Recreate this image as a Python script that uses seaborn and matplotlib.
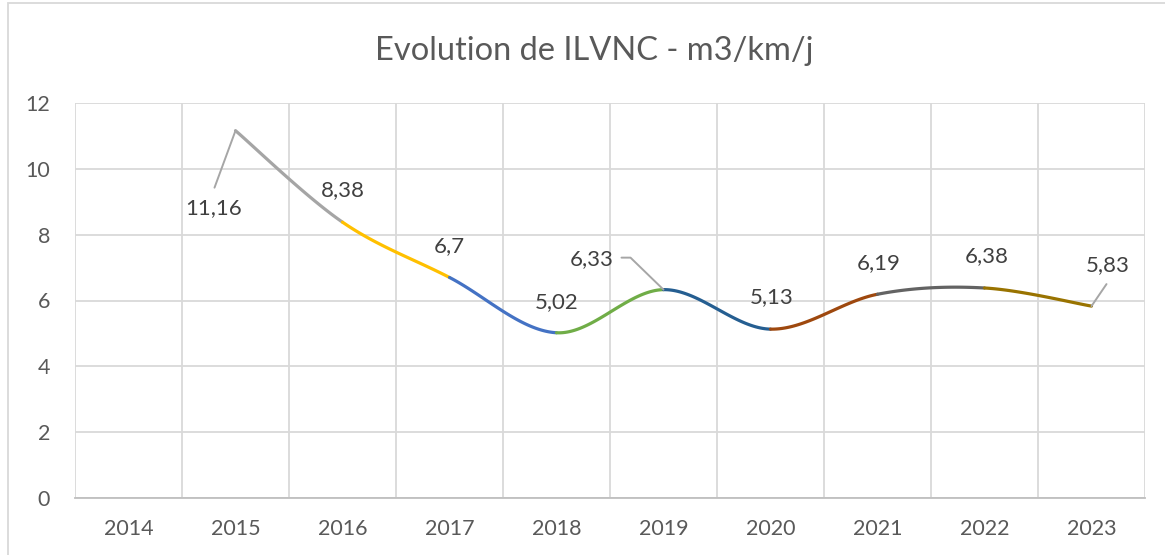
import numpy as np
import matplotlib.pyplot as plt
import seaborn as sns
from matplotlib.patches import Rectangle

# Data
years = ['2014', '2015', '2016', '2017', '2018', '2019', '2020', '2021', '2022', '2023']
values = [np.nan, 11.16, 8.38, 6.7, 5.02, 6.33, 5.13, 6.19, 6.38, 5.83]
value_labels = ['', '11,16', '8,38', '6,7', '5,02', '6,33', '5,13', '6,19', '6,38', '5,83']
# colour of the segment that ends at each year (Excel "vary colors by point")
segment_colors = [None, None, '#A5A5A5', '#FFC000', '#4472C4', '#70AD47',
                  '#255E91', '#9E480E', '#636363', '#997300']

# label offsets in pixels (dx, dy up) from the point
label_offsets = [None, (-22, -77), (0, 32), (0, 31), (0, 31), (-72, 31),
                 (1, 32), (1, 31), (2, 32), (16, 41)]
# leader lines: year index -> start offset in pixels
leaders = {1: (-21, -57), 9: (15, 22)}

sns.set_theme(style="white")
plt.rcParams['font.family'] = ['Lato', 'DejaVu Sans']

fig = plt.figure(figsize=(11.65, 5.55), dpi=100)
ax = fig.add_axes([75 / 1165, 1 - 498 / 555, 1070 / 1165, 395 / 555])

x = np.arange(len(years))
y = np.array(values)


def bezier_segment(i):
    # Excel-like smoothing (Catmull-Rom as cubic Bezier)
    valid = [k for k in range(len(y)) if not np.isnan(y[k])]
    p = {k: np.array([x[k], y[k]]) for k in valid}
    p0 = p.get(i - 1, p[i])
    p1 = p[i]
    p2 = p[i + 1]
    p3 = p.get(i + 2, p[i + 1])
    c1 = p1 + (p2 - p0) / 6
    c2 = p2 - (p3 - p1) / 6
    t = np.linspace(0, 1, 60)[:, None]
    pts = (1 - t) ** 3 * p1 + 3 * (1 - t) ** 2 * t * c1 + 3 * (1 - t) * t ** 2 * c2 + t ** 3 * p2
    return pts[:, 0], pts[:, 1]


for i in range(1, len(years) - 1):
    sx, sy = bezier_segment(i)
    sns.lineplot(x=sx, y=sy, ax=ax, color=segment_colors[i + 1], lw=2.3,
                 sort=False, estimator=None, solid_capstyle='round')

px2pt = 0.72
for i, lab in enumerate(value_labels):
    if not lab:
        continue
    dx, dy = label_offsets[i]
    ax.annotate(lab, xy=(x[i], y[i]), xytext=(dx * px2pt, dy * px2pt),
                textcoords='offset points', ha='center', va='center',
                fontsize=16, color='#404040')

for i, (dx, dy) in leaders.items():
    ax.annotate('', xy=(x[i], y[i]), xytext=(dx * px2pt, dy * px2pt),
                textcoords='offset points',
                arrowprops=dict(arrowstyle='-', color='#A6A6A6', lw=1.4,
                                shrinkA=0, shrinkB=0))

# 2019 leader with short horizontal arm
ax.annotate('', xy=(x[5], y[5]), xytext=(-42 * px2pt, 32 * px2pt),
            textcoords='offset points',
            arrowprops=dict(arrowstyle='-', color='#A6A6A6', lw=1.4,
                            shrinkA=0, shrinkB=0,
                            connectionstyle='arc,angleA=0,armA=9,angleB=0,armB=0,rad=0'))

ax.set_xlim(-0.5, len(years) - 0.5)
ax.set_ylim(0, 12)
ax.set_yticks(range(0, 13, 2))
ax.set_xticks(x)
ax.set_xticklabels(years)
ax.set_xticks(np.arange(-0.5, len(years)), minor=True)

ax.grid(False)
ax.yaxis.grid(True, color='#D9D9D9', lw=1.3)
ax.xaxis.grid(True, which='minor', color='#D9D9D9', lw=1.3)
ax.set_axisbelow(True)

for s in ['top', 'right', 'left']:
    ax.spines[s].set_visible(False)
ax.spines['bottom'].set_color('#BFBFBF')
ax.spines['bottom'].set_linewidth(1.3)

ax.tick_params(axis='both', which='both', length=0, labelsize=15.5, colors='#595959')
ax.tick_params(axis='y', pad=18)
ax.tick_params(axis='x', pad=15)
ax.set_xlabel('')
ax.set_ylabel('')

fig.text(594 / 1165, 1 - 51 / 555, 'Evolution de ILVNC - m3/km/j', ha='center', va='center',
         fontsize=23.5, color='#595959')

# outer chart border
fig.patches.append(Rectangle((8 / 1165, -0.1), 1.2, 1.1 - 3 / 555, transform=fig.transFigure,
                             fill=False, edgecolor='#D9D9D9', lw=1.3))

fig.savefig('out.png', dpi=100)
